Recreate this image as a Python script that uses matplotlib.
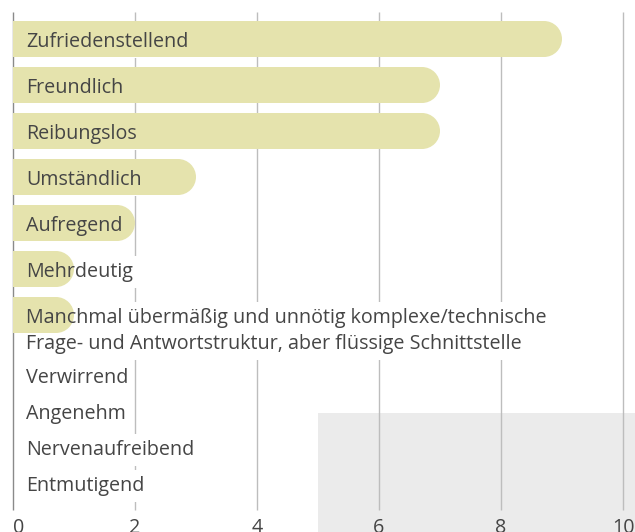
import matplotlib
matplotlib.use("Agg")
import matplotlib.pyplot as plt
from matplotlib.patches import Ellipse, Rectangle

# answers and how often each was picked
labels = [
    "Zufriedenstellend",
    "Freundlich",
    "Reibungslos",
    "Umständlich",
    "Aufregend",
    "Mehrdeutig",
    "Manchmal übermäßig und unnötig komplexe/technische\n"
    "Frage- und Antwortstruktur, aber flüssige Schnittstelle",
    "Verwirrend",
    "Angenehm",
    "Nervenaufreibend",
    "Entmutigend",
]
counts = [9, 7, 7, 3, 2, 1, 1, 0, 0, 0, 0]
ticks = [0, 2, 4, 6, 8, 10]

W, H = 635, 532          # figure size in px
PX_PER_UNIT = 61.0       # horizontal scale
X0_PX = 13               # where zero sits
BAR_H = 36
LINE_H = 25
TOP = 21

BAR_COLOR = "#e5e3ad"
TEXT_COLOR = "#454545"
GRID_COLOR = "#bdbdbd"
FONT = "Open Sans"
FS = 14.2

fig = plt.figure(figsize=(W / 100, H / 100), dpi=100)
ax = fig.add_axes([0, 0, 1, 1])
# x in answer counts, y in pixel rows (top to bottom)
ax.set_xlim(-X0_PX / PX_PER_UNIT, (W - X0_PX) / PX_PER_UNIT)
ax.set_ylim(H, 0)
ax.axis("off")

# grey panel in the lower right corner
ax.add_patch(Rectangle((318 / W, 0), 1, 119 / H, transform=ax.transAxes,
                       facecolor="#ebebeb", edgecolor="none", zorder=0))

ax.vlines(ticks[1:], 12, 510, color=GRID_COLOR, lw=1.0, zorder=1)
ax.vlines(0, 12, 510, color="#8a8a8a", lw=1.0, zorder=1)

r = BAR_H / 2 / PX_PER_UNIT
top = TOP
for label, n in zip(labels, counts):
    nlines = label.count("\n") + 1
    yc = top + BAR_H / 2
    if n > 0:
        ax.barh(yc, n - r, left=0, height=BAR_H, color=BAR_COLOR,
                edgecolor="none", zorder=3)
        ax.add_patch(Ellipse((n - r, yc), 2 * r, BAR_H, facecolor=BAR_COLOR,
                             edgecolor="none", zorder=3))
    kw = dict(xy=(0, yc - 7), xytext=(9.2, 0),
              textcoords="offset points", ha="left", va="top",
              fontsize=FS, family=FONT, linespacing=1.38)
    # white backing keeps the grid lines out from under the text
    ax.annotate(label, color="white", zorder=2,
                bbox=dict(boxstyle="square,pad=0.3", fc="white", ec="none"),
                **kw)
    ax.annotate(label, color=TEXT_COLOR, zorder=5, **kw)
    block = max(BAR_H if n > 0 else 26, LINE_H * nlines)
    top += block + 10

for t in ticks:
    ax.text(t, 518, str(t), ha="left" if t == 0 else "center", va="top",
            fontsize=FS, family=FONT, color=TEXT_COLOR)

fig.savefig("out.png", dpi=100)
